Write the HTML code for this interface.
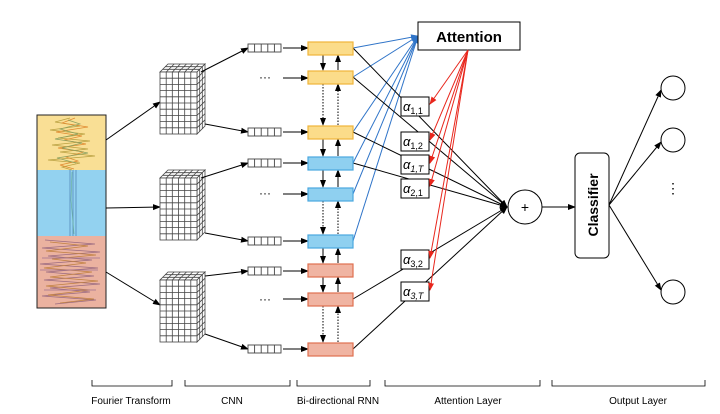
<!DOCTYPE html>
<html><head><meta charset="utf-8"><style>
html,body{margin:0;padding:0;background:#fff;}
svg{display:block;}
text{font-family:"Liberation Sans",sans-serif;}
</style></head><body>
<svg width="720" height="414" viewBox="0 0 720 414" xmlns="http://www.w3.org/2000/svg">
<defs>
<marker id="ab" markerWidth="8" markerHeight="8" refX="7" refY="4" orient="auto" markerUnits="userSpaceOnUse"><path d="M0,1 L8,4 L0,7 z" fill="#000"/></marker>
<marker id="ar" markerWidth="8" markerHeight="8" refX="7" refY="4" orient="auto" markerUnits="userSpaceOnUse"><path d="M0,1 L8,4 L0,7 z" fill="#e8261c"/></marker>
<marker id="abl" markerWidth="8" markerHeight="8" refX="7" refY="4" orient="auto" markerUnits="userSpaceOnUse"><path d="M0,1 L8,4 L0,7 z" fill="#2f74c8"/></marker>
<g id="cube" fill="#fff" stroke="#444" stroke-width="0.8">
<polygon points="0,8 8,0 45,0 37,8"/>
<polygon points="37,8 45,0 45,62 37,70"/>
<rect x="0" y="8" width="37" height="62"/>
<path d="M6.2,8V70M12.3,8V70M18.5,8V70M24.7,8V70M30.8,8V70M0,14.2H37M0,20.4H37M0,26.6H37M0,32.8H37M0,39H37M0,45.2H37M0,51.4H37M0,57.6H37M0,63.8H37"/>
<path d="M6.2,8L14.2,0M12.3,8L20.3,0M18.5,8L26.5,0M24.7,8L32.7,0M30.8,8L38.8,0M2.7,5.3H39.7M5.3,2.7H42.3"/>
<path d="M37,14.2L45,6.2M37,20.4L45,12.4M37,26.6L45,18.6M37,32.8L45,24.8M37,39L45,31M37,45.2L45,37.2M37,51.4L45,43.4M37,57.6L45,49.6M37,63.8L45,55.8M39.7,5.3V67.3M42.3,2.7V64.7"/>
</g>
<g id="vec" fill="#fff" stroke="#444" stroke-width="0.9">
<rect x="0" y="-4" width="33" height="8"/>
<path d="M6.6,-4V4M13.2,-4V4M19.8,-4V4M26.4,-4V4"/>
</g>
</defs>

<rect x="37" y="115" width="69" height="55" fill="#f9df95"/>
<rect x="37" y="170" width="69" height="66" fill="#93d2f0"/>
<rect x="37" y="236" width="69" height="72" fill="#ebb2a0"/>
<g fill="none" stroke-width="0.7">
<path d="M70,118 L55,122 L80,126 L50,130 L85,134 L58,138 L90,141 L52,145 L88,149 L60,152 L95,156 L48,160 L80,163 L62,167 L72,170" stroke="#b9a040"/>
<path d="M75,118 L62,123 L88,127 L56,132 L82,136 L64,140 L86,144 L58,148 L84,152 L66,157 L78,161 L60,165 L74,169" stroke="#e08a30"/>
<path d="M68,120 L80,124 L60,129 L78,134 L55,139 L82,143 L62,148 L88,153 L57,158 L76,163" stroke="#8aa060"/>
<path d="M70,170 V236 M73,170 V236 M76,170 V236" stroke="#4a7fb0"/>
<path d="M72,172 L71,200 L74,234" stroke="#6ab0a0"/>
<path d="M45,240 L95,244 L42,248 L100,252 L48,256 L92,260 L40,264 L98,268 L46,272 L94,276 L44,280 L100,284 L50,288 L90,292 L42,296 L96,300 L55,304" stroke="#9a6a80"/>
<path d="M50,242 L88,246 L46,251 L96,255 L52,259 L86,263 L44,268 L92,272 L50,277 L98,281 L46,286 L90,290 L48,295 L94,299 L60,303" stroke="#c08040"/>
<path d="M42,258 H100 M40,270 H98 M44,290 H96" stroke="#a07090"/>
</g>
<rect x="37" y="115" width="69" height="193" fill="none" stroke="#222" stroke-width="1"/>

<g stroke="#000" stroke-width="1" fill="none" marker-end="url(#ab)">
<line x1="106" y1="140" x2="160" y2="102"/>
<line x1="106" y1="208" x2="160" y2="207"/>
<line x1="106" y1="272" x2="160" y2="305"/>
</g>
<use href="#cube" x="160" y="64"/>
<use href="#cube" x="160" y="170"/>
<use href="#cube" x="160" y="272"/>

<g stroke="#000" stroke-width="1" fill="none" marker-end="url(#ab)">
<line x1="201" y1="72" x2="248" y2="48"/>
<line x1="205" y1="124" x2="248" y2="132"/>
<line x1="201" y1="178" x2="248" y2="163"/>
<line x1="205" y1="233" x2="248" y2="241"/>
<line x1="205" y1="276" x2="248" y2="271"/>
<line x1="205" y1="334" x2="248" y2="349"/>
<line x1="283" y1="48" x2="308" y2="48"/>
<line x1="283" y1="78" x2="308" y2="78"/>
<line x1="283" y1="132" x2="308" y2="132"/>
<line x1="283" y1="163" x2="308" y2="163"/>
<line x1="283" y1="194" x2="308" y2="194"/>
<line x1="283" y1="241" x2="308" y2="241"/>
<line x1="283" y1="271" x2="308" y2="271"/>
<line x1="283" y1="299" x2="308" y2="299"/>
<line x1="283" y1="349" x2="308" y2="349"/>
</g>
<use href="#vec" x="248" y="48"/>
<use href="#vec" x="248" y="132"/>
<use href="#vec" x="248" y="163"/>
<use href="#vec" x="248" y="241"/>
<use href="#vec" x="248" y="271"/>
<use href="#vec" x="248" y="349"/>
<g font-size="12" fill="#000"><text x="259" y="81">···</text><text x="259" y="197">···</text><text x="259" y="303">···</text></g>

<g stroke="#000" stroke-width="1" fill="none" marker-end="url(#ab)">
<line x1="323" y1="55" x2="323" y2="70"/><line x1="338" y1="70" x2="338" y2="55"/>
<line x1="323" y1="139" x2="323" y2="156"/><line x1="338" y1="156" x2="338" y2="139"/>
<line x1="323" y1="170" x2="323" y2="187"/><line x1="338" y1="187" x2="338" y2="170"/>
<line x1="323" y1="248" x2="323" y2="263"/><line x1="338" y1="263" x2="338" y2="248"/>
<line x1="323" y1="277" x2="323" y2="292"/><line x1="338" y1="292" x2="338" y2="277"/>
</g>
<g stroke="#000" stroke-width="1" fill="none" stroke-dasharray="1.5,1.5" marker-end="url(#ab)">
<line x1="323" y1="84" x2="323" y2="125"/><line x1="338" y1="125" x2="338" y2="84"/>
<line x1="323" y1="201" x2="323" y2="234"/><line x1="338" y1="234" x2="338" y2="201"/>
<line x1="323" y1="306" x2="323" y2="342"/><line x1="338" y1="342" x2="338" y2="306"/>
</g>

<g stroke="#2f74c8" stroke-width="1" fill="none" marker-end="url(#abl)">
<line x1="353" y1="48" x2="418" y2="36"/>
<line x1="353" y1="77" x2="418" y2="36"/>
<line x1="353" y1="132" x2="418" y2="36"/>
<line x1="353" y1="163" x2="418" y2="36"/>
<line x1="353" y1="194" x2="418" y2="36"/>
<line x1="353" y1="241" x2="418" y2="36"/>
</g>
<g stroke="#000" stroke-width="1" fill="none" marker-end="url(#ab)">
<line x1="353" y1="48" x2="507" y2="207"/>
<line x1="353" y1="77" x2="507" y2="207"/>
<line x1="353" y1="132" x2="507" y2="207"/>
<line x1="353" y1="163" x2="507" y2="207"/>
<line x1="353" y1="299" x2="507" y2="207"/>
<line x1="353" y1="349" x2="507" y2="207"/>
</g>

<g stroke-width="1.2">
<rect x="308" y="42" width="45" height="13" fill="#fbdc8a" stroke="#f0b53a"/>
<rect x="308" y="71" width="45" height="13" fill="#fbdc8a" stroke="#f0b53a"/>
<rect x="308" y="126" width="45" height="13" fill="#fbdc8a" stroke="#f0b53a"/>
<rect x="308" y="157" width="45" height="13" fill="#8fd0f0" stroke="#4aa8e0"/>
<rect x="308" y="188" width="45" height="13" fill="#8fd0f0" stroke="#4aa8e0"/>
<rect x="308" y="235" width="45" height="13" fill="#8fd0f0" stroke="#4aa8e0"/>
<rect x="308" y="264" width="45" height="13" fill="#f0b4a2" stroke="#e07050"/>
<rect x="308" y="293" width="45" height="13" fill="#f0b4a2" stroke="#e07050"/>
<rect x="308" y="343" width="45" height="13" fill="#f0b4a2" stroke="#e07050"/>
</g>

<rect x="418" y="22" width="102" height="28" fill="#fff" stroke="#000" stroke-width="1"/>
<text x="469" y="42" font-size="15" font-weight="bold" text-anchor="middle">Attention</text>

<g fill="#fff" stroke="#000" stroke-width="1">
<rect x="401" y="97" width="28" height="19"/>
<rect x="401" y="132" width="28" height="19"/>
<rect x="401" y="155" width="28" height="19"/>
<rect x="401" y="179" width="28" height="19"/>
<rect x="401" y="250" width="28" height="19"/>
<rect x="401" y="282" width="28" height="19"/>
</g>
<g font-family="Liberation Serif,serif" font-style="italic" font-size="13">
<text x="403" y="111">α<tspan font-size="9" font-style="normal" dy="3">1,1</tspan></text>
<text x="403" y="146">α<tspan font-size="9" font-style="normal" dy="3">1,2</tspan></text>
<text x="403" y="169">α<tspan font-size="9" dy="3">1,T</tspan></text>
<text x="403" y="193">α<tspan font-size="9" font-style="normal" dy="3">2,1</tspan></text>
<text x="403" y="264">α<tspan font-size="9" font-style="normal" dy="3">3,2</tspan></text>
<text x="403" y="296">α<tspan font-size="9" dy="3">3,T</tspan></text>
</g>

<g stroke="#e8261c" stroke-width="1" fill="none" marker-end="url(#ar)">
<line x1="468" y1="50" x2="430" y2="104"/>
<line x1="468" y1="50" x2="430" y2="140"/>
<line x1="468" y1="50" x2="430" y2="163"/>
<line x1="468" y1="50" x2="430" y2="186"/>
<line x1="468" y1="50" x2="430" y2="258"/>
<line x1="468" y1="50" x2="430" y2="290"/>
</g>

<circle cx="525" cy="207" r="17" fill="#fff" stroke="#000" stroke-width="1"/>
<text x="525" y="212" font-size="14" text-anchor="middle">+</text>
<line x1="542" y1="207" x2="575" y2="207" stroke="#000" stroke-width="1" marker-end="url(#ab)"/>

<rect x="575" y="153" width="34" height="105" rx="5" fill="#fff" stroke="#000" stroke-width="1"/>
<text transform="translate(598,205) rotate(-90)" font-size="14" font-weight="bold" text-anchor="middle">Classifier</text>

<g stroke="#000" stroke-width="1" fill="none" marker-end="url(#ab)">
<line x1="609" y1="205" x2="661" y2="90"/>
<line x1="609" y1="205" x2="661" y2="142"/>
<line x1="609" y1="205" x2="661" y2="290"/>
</g>
<g fill="#fff" stroke="#000" stroke-width="1">
<circle cx="673" cy="88" r="12"/>
<circle cx="673" cy="140" r="12"/>
<circle cx="673" cy="292" r="12"/>
</g>
<text x="673" y="193" font-size="14" text-anchor="middle">⋮</text>

<g stroke="#000" stroke-width="0.8" fill="none">
<path d="M92,380V386H172V380"/>
<path d="M185,380V386H290V380"/>
<path d="M297,380V386H370V380"/>
<path d="M385,380V386H540V380"/>
<path d="M552,380V386H705V380"/>
</g>
<g font-size="10" text-anchor="middle" fill="#000">
<text x="131" y="404">Fourier Transform</text>
<text x="232" y="404">CNN</text>
<text x="338" y="404">Bi-directional RNN</text>
<text x="468" y="404">Attention Layer</text>
<text x="638" y="404">Output Layer</text>
</g>
</svg>
</body></html>
